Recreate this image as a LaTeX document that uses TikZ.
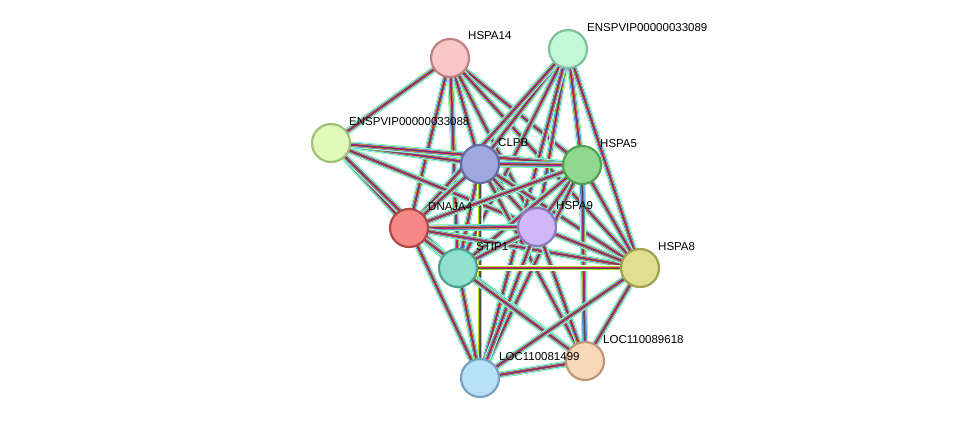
\documentclass[tikz,border=0pt]{standalone}
\usepackage{fontspec}
\setmainfont{Liberation Sans}
\begin{document}
\begin{tikzpicture}[x=1pt,y=-1pt,
  prot/.style={circle,minimum size=38pt,inner sep=0pt,line width=2.2pt},
  lab/.style={anchor=west,font=\fontsize{11.5}{13}\selectfont,inner sep=0pt},
  e1/.style={line width=6.6pt,color=green!60!cyan!70},
  e2/.style={line width=5.4pt,color=white},
  e3/.style={line width=4.4pt,color=blue!60!cyan!80},
  e4/.style={line width=3.2pt,color=yellow!70!green},
  e5/.style={line width=2.2pt,color=magenta!80!violet},
  e6/.style={line width=0.8pt,color=black!70}]
\useasboundingbox (0,0) rectangle (975,424);
\coordinate (A) at (450,58);
\coordinate (B) at (568,49);
\coordinate (C) at (331,143);
\coordinate (D) at (480,164);
\coordinate (E) at (582,165);
\coordinate (F) at (409,228);
\coordinate (G) at (537,227);
\coordinate (H) at (458,268);
\coordinate (I) at (640,268);
\coordinate (J) at (480,378);
\coordinate (K) at (585,361);
\foreach \p/\q in {A/C,A/D,A/E,A/F,A/G,A/H,A/I,B/D,B/E,B/F,B/G,B/H,B/I,B/J,
  C/D,C/E,C/F,C/G,C/H,D/E,D/F,D/G,D/H,D/I,D/J,D/K,E/F,E/G,E/H,E/I,E/J,E/K,
  F/G,F/H,F/I,F/J,F/K,G/H,G/I,G/J,G/K,H/I,H/J,H/K,I/J,I/K,J/K}{
  \draw[e1] (\p)--(\q); \draw[e2] (\p)--(\q); \draw[e3] (\p)--(\q);
  \draw[e4] (\p)--(\q); \draw[e5] (\p)--(\q); \draw[e6] (\p)--(\q);}
\node[prot,fill={rgb,255:red,248;green,200;blue,200},draw={rgb,255:red,192;green,128;blue,128}] (hspa14) at (A) {};
\node[prot,fill={rgb,255:red,192;green,248;blue,216},draw={rgb,255:red,128;green,192;blue,152}] (n89) at (B) {};
\node[prot,fill={rgb,255:red,224;green,248;blue,184},draw={rgb,255:red,160;green,192;blue,120}] (n88) at (C) {};
\node[prot,fill={rgb,255:red,160;green,168;blue,224},draw={rgb,255:red,100;green,108;blue,168}] (clpb) at (D) {};
\node[prot,fill={rgb,255:red,144;green,216;blue,144},draw={rgb,255:red,80;green,160;blue,80}] (hspa5) at (E) {};
\node[prot,fill={rgb,255:red,248;green,136;blue,136},draw={rgb,255:red,176;green,72;blue,72}] (dnaja4) at (F) {};
\node[prot,fill={rgb,255:red,208;green,184;blue,248},draw={rgb,255:red,144;green,120;blue,192}] (hspa9) at (G) {};
\node[prot,fill={rgb,255:red,144;green,224;blue,208},draw={rgb,255:red,80;green,160;blue,144}] (stip1) at (H) {};
\node[prot,fill={rgb,255:red,224;green,224;blue,144},draw={rgb,255:red,160;green,160;blue,80}] (hspa8) at (I) {};
\node[prot,fill={rgb,255:red,184;green,224;blue,248},draw={rgb,255:red,120;green,160;blue,192}] (l81) at (J) {};
\node[prot,fill={rgb,255:red,248;green,216;blue,184},draw={rgb,255:red,192;green,152;blue,120}] (l89) at (K) {};
\node[lab] (t1) at (468,36) {HSPA14};
\node[lab] (t2) at (587,28) {ENSPVIP00000033089};
\node[lab] (t3) at (349,122) {ENSPVIP00000033088};
\node[lab] (t4) at (498,143) {CLPB};
\node[lab] (t5) at (600,144) {HSPA5};
\node[lab] (t6) at (428,207) {DNAJA4};
\node[lab] (t7) at (556,206) {HSPA9};
\node[lab] (t8) at (476,247) {STIP1};
\node[lab] (t9) at (658,247) {HSPA8};
\node[lab] (t10) at (499,357) {LOC110081499};
\node[lab] (t11) at (603,340) {LOC110089618};
\end{tikzpicture}
\end{document}
